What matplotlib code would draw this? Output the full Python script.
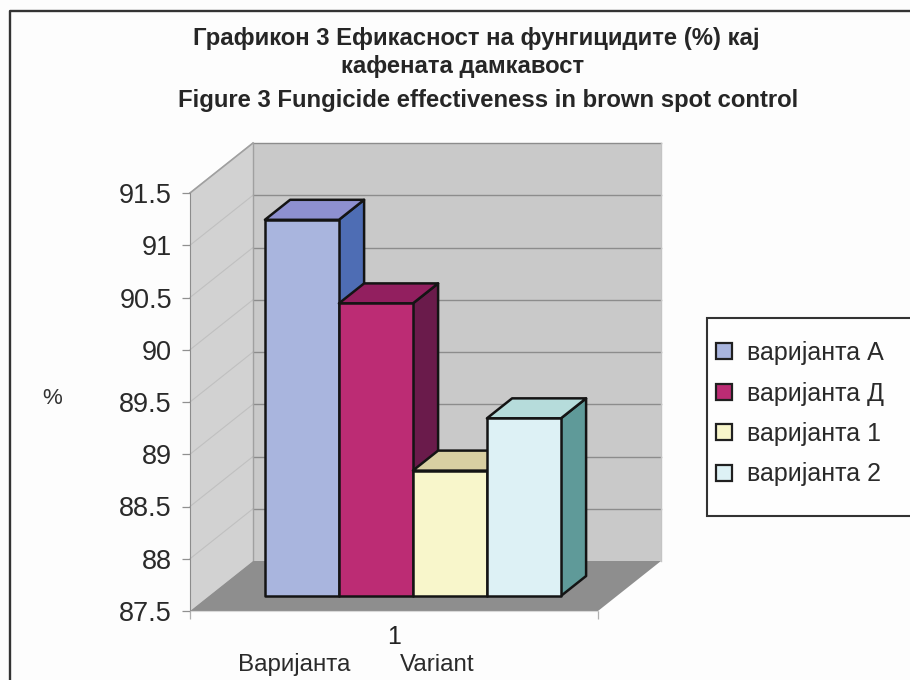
import matplotlib
matplotlib.use("Agg")
import matplotlib.pyplot as plt
from matplotlib.patches import Polygon, Patch, Rectangle
from matplotlib.lines import Line2D

plt.rcParams['font.family'] = ['Liberation Sans', 'DejaVu Sans']

# ---- data ----
title_lines = ["Графикон 3 Ефикасност на фунгицидите (%) кај",
               "кафената дамкавост",
               "Figure 3 Fungicide effectiveness in brown spot control"]
series_names = ["варијанта А", "варијанта Д", "варијанта 1", "варијанта 2"]
series_values = [91.1, 90.3, 88.7, 89.2]
y_ticks = [87.5, 88, 88.5, 89, 89.5, 90, 90.5, 91, 91.5]
y_tick_labels = ["87.5", "88", "88.5", "89", "89.5", "90", "90.5", "91", "91.5"]
category_label = "1"
x_label_mk = "Варијанта"
x_label_en = "Variant"
y_label = "%"
front_colors = ["#A9B5DE", "#BC2C74", "#F8F6CB", "#DDF1F5"]
top_colors = ["#8E90D0", "#921F5F", "#D8CFA2", "#B6DCDB"]
side_colors = ["#4E6DB4", "#6A1B4B", "#857A48", "#5F9A99"]

W, H = 910, 680
fig = plt.figure(figsize=(W / 100, H / 100), dpi=100, facecolor="#FDFDFD")
L, R, T, B = 190, 598, 193, 611
ax = fig.add_axes([L / W, 1 - B / H, (R - L) / W, (B - T) / H])
ax.set_xlim(0, 1)
ax.set_ylim(y_ticks[0], y_ticks[-1])
ax.patch.set_visible(False)

# oblique projection: depth 0 = front plane, depth 1 = back wall
DX = 63 / (R - L)
DY = 50 / ((B - T) / (y_ticks[-1] - y_ticks[0]))


def P(x, v, d=0.0):
    return (x + d * DX, v + d * DY)


def face(pts, color, **kw):
    kw.setdefault("lw", 0)
    kw.setdefault("ec", "none")
    ax.add_patch(Polygon(pts, closed=True, fc=color, clip_on=False, **kw))


ymin, ymax = y_ticks[0], y_ticks[-1]
# walls and floor
face([P(0, ymin, 1), P(1, ymin, 1), P(1, ymax, 1), P(0, ymax, 1)], "#C9C9C9", zorder=1)
face([P(0, ymin, 0), P(0, ymin, 1), P(0, ymax, 1), P(0, ymax, 0)], "#D2D2D2", zorder=1)
face([P(0, ymin, 0), P(1, ymin, 0), P(1, ymin, 1), P(0, ymin, 1)], "#8E8E8E", zorder=1.2)
for v in y_ticks[1:]:
    xs, ys = zip(P(0, v, 1), P(1, v, 1))
    ax.plot(xs, ys, color="#8C8C8C", lw=1.0, zorder=1.1, clip_on=False)
    xs, ys = zip(P(0, v, 0), P(0, v, 1))
    ax.plot(xs, ys, color="#C0C0C0", lw=0.8, zorder=1.1, clip_on=False)
xs, ys = zip(P(0, ymax, 0), P(0, ymax, 1))
ax.plot(xs, ys, color="#A0A0A0", lw=1.2, zorder=1.1, clip_on=False)
xs, ys = zip(P(0, ymin, 1), P(0, ymax, 1))
ax.plot(xs, ys, color="#A0A0A0", lw=1.0, zorder=1.1, clip_on=False)
xs, ys = zip(P(1, ymin, 1), P(1, ymax, 1))
ax.plot(xs, ys, color="#C4C4C4", lw=1.0, zorder=1.1, clip_on=False)

# bars
bar_w = 74 / (R - L)
start = 0.5 - bar_w * len(series_values) / 2
d0, d1 = 0.30, 0.70
edge = dict(ec="#141414", lw=1.8, joinstyle="round")
for i, val in enumerate(series_values):
    x0 = start + i * bar_w
    x1 = x0 + bar_w
    z = 2 + i
    face([P(x1, ymin, d0), P(x1, ymin, d1), P(x1, val, d1), P(x1, val, d0)], side_colors[i], zorder=z, **edge)
    face([P(x0, val, d0), P(x1, val, d0), P(x1, val, d1), P(x0, val, d1)], top_colors[i], zorder=z, **edge)
    face([P(x0, ymin, d0), P(x1, ymin, d0), P(x1, val, d0), P(x0, val, d0)], front_colors[i], zorder=z, **edge)

# axes
ax.set_yticks(y_ticks)
ax.set_yticklabels(y_tick_labels, fontsize=19.5, color="#2A2A2A")
ax.tick_params(axis="y", length=6, width=0.9, color="#909090", pad=7)
ax.set_xticks([0, 1])
ax.set_xticklabels([])
ax.tick_params(axis="x", length=5.5, width=0.9, color="#B0B0B0")
ax.set_xticks([0.5], minor=True)
ax.set_xticklabels([category_label], minor=True, fontsize=18, color="#222222")
ax.tick_params(axis="x", which="minor", length=0, pad=10)
for s in ("top", "right"):
    ax.spines[s].set_visible(False)
ax.spines["left"].set_color("#8C8C8C")
ax.spines["bottom"].set_color("#D8D8D8")
ax.spines["left"].set_zorder(1.3)
ax.spines["bottom"].set_zorder(1.3)


def ftext(px, py, s, **kw):
    fig.text(px / W, 1 - py / H, s, ha="center", va="center", **kw)


for px, py, line in zip([476, 463, 488], [39, 67, 101], title_lines):
    ftext(px, py, line, fontsize=17.2, fontweight="bold", color="#262626")
ftext(52, 399, y_label, fontsize=16, color="#333333")
ftext(294, 665, x_label_mk, fontsize=17.4, color="#2A2A2A")
ftext(437, 665, x_label_en, fontsize=17.4, color="#2A2A2A")

# page frame
fig.add_artist(Line2D([10 / W, 10 / W, 1], [0, 1 - 11 / H, 1 - 11 / H], color="#333333", lw=1.7))

# legend box and entries
fig.add_artist(Rectangle((707 / W, 1 - 516 / H), 230 / W, 198 / H, transform=fig.transFigure,
                         fc="#FEFEFE", ec="#333333", lw=1.5))
handles = [Patch(fc=c, ec="#202020", lw=1.6) for c in front_colors]
leg = fig.legend(handles, series_names, loc="upper left",
                 bbox_to_anchor=(716 / W, 1 - 341 / H),
                 borderaxespad=0, borderpad=0, fontsize=18, frameon=False,
                 handlelength=0.62, handleheight=0.62, handletextpad=0.62,
                 labelspacing=0.66, labelcolor="#2A2A2A")

fig.savefig("out.png", dpi=100, facecolor=fig.get_facecolor())
